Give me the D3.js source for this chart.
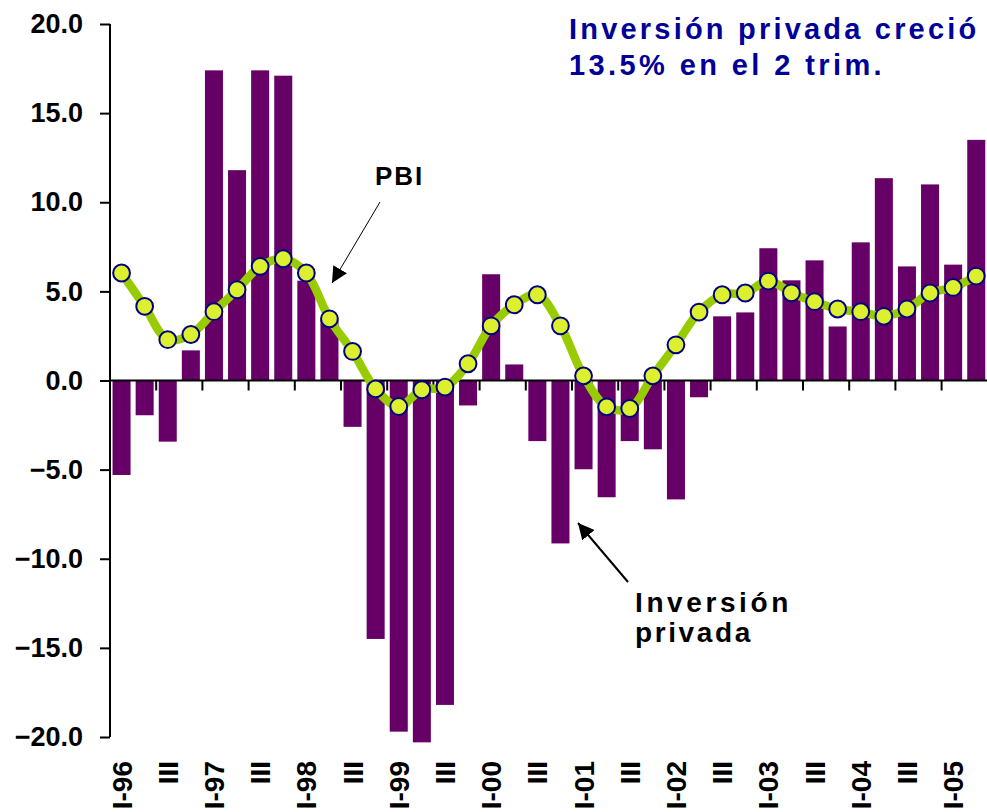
<!DOCTYPE html>
<html>
<head>
<meta charset="utf-8">
<script src="https://cdn.jsdelivr.net/npm/d3@7"></script>
<style>
  html, body { margin: 0; padding: 0; background: #ffffff; }
  svg { display: block; }
  text { font-family: Arial, "Liberation Sans", sans-serif; font-weight: bold; }
</style>
</head>
<body>
<svg id="chart" width="987" height="812"></svg>
<script>
// ---- data ----
const quarters = [
  "I-96","II-96","III-96","IV-96",
  "I-97","II-97","III-97","IV-97",
  "I-98","II-98","III-98","IV-98",
  "I-99","II-99","III-99","IV-99",
  "I-00","II-00","III-00","IV-00",
  "I-01","II-01","III-01","IV-01",
  "I-02","II-02","III-02","IV-02",
  "I-03","II-03","III-03","IV-03",
  "I-04","II-04","III-04","IV-04",
  "I-05","II-05"
];
const tickLabels = [
  "I-96","","III","",
  "I-97","","III","",
  "I-98","","III","",
  "I-99","","III","",
  "I-00","","III","",
  "I-01","","III","",
  "I-02","","III","",
  "I-03","","III","",
  "I-04","","III","",
  "I-05",""
];
const inversionPrivada = [
  -5.3, -1.95, -3.43, 1.69,
  17.4, 11.8, 17.4, 17.1,
  5.6, 3.4, -2.6, -14.5,
  -19.7, -20.3, -18.2, -1.4,
  5.96, 0.9, -3.4, -9.14,
  -4.98, -6.55, -3.4, -3.86,
  -6.67, -0.94, 3.6, 3.82,
  7.42, 5.62, 6.74, 3.03,
  7.75, 11.35, 6.4, 11.0,
  6.5, 13.5
];
const pbi = [
  6.03, 4.16, 2.29, 2.58,
  3.86, 5.09, 6.4, 6.83,
  6.03, 3.46, 1.63, -0.47,
  -1.46, -0.52, -0.37, 0.94,
  3.07, 4.25, 4.81, 3.07,
  0.26, -1.48, -1.57, 0.26,
  2.0, 3.84, 4.81, 4.91,
  5.58, 4.92, 4.42, 4.01,
  3.86, 3.6, 4.01, 4.91,
  5.22, 5.86
];
const yTicks = [20, 15, 10, 5, 0, -5, -10, -15, -20];

// ---- layout ----
const svg = d3.select("#chart");
const plotLeft = 110, step = 23.1;
const plotRight = plotLeft + quarters.length * step;
const plotTop = 24, plotBottom = 737;

const x = d3.scaleBand().domain(quarters).range([plotLeft, plotRight])
  .paddingInner(0.22).paddingOuter(0.11);
const y = d3.scaleLinear().domain([-20, 20]).range([plotBottom, plotTop]);

// defs: arrow head
const defs = svg.append("defs");
defs.append("marker").attr("id", "head")
  .attr("viewBox", "0 0 10 10").attr("refX", 10).attr("refY", 5)
  .attr("markerUnits", "userSpaceOnUse")
  .attr("markerWidth", 16).attr("markerHeight", 16)
  .attr("orient", "auto")
  .append("path").attr("d", "M0,0 L10,5 L0,10 Z").attr("fill", "#000");

// bars
svg.append("g").selectAll("rect").data(inversionPrivada).join("rect")
  .attr("x", (d, i) => x(quarters[i]))
  .attr("width", x.bandwidth())
  .attr("y", d => Math.min(y(d), y(0)))
  .attr("height", d => Math.abs(y(d) - y(0)))
  .attr("fill", "#660066");

// y axis
const yAxis = d3.axisLeft(y).tickValues(yTicks).tickSize(10).tickPadding(17)
  .tickFormat(d3.format(".1f"));
const gy = svg.append("g").attr("transform", `translate(${plotLeft},0)`).call(yAxis);
gy.select(".domain").attr("stroke", "#000").attr("stroke-width", 2).attr("d", `M0,${plotTop}V${plotBottom}`);
gy.selectAll(".tick line").attr("stroke", "#000").attr("stroke-width", 2);
gy.selectAll(".tick text").attr("fill", "#000").attr("font-size", 27)
  .attr("font-family", 'Arial, "Liberation Sans", sans-serif').attr("font-weight", "bold");

// x axis (at zero)
const boundaryScale = d3.scaleLinear().domain([0, quarters.length]).range([plotLeft, plotRight]);
const boundaries = d3.range(2, quarters.length, 2);
const gx = svg.append("g");
gx.append("line").attr("x1", plotLeft).attr("x2", 987).attr("y1", y(0)).attr("y2", y(0))
  .attr("stroke", "#000").attr("stroke-width", 2);
gx.selectAll("line.tk").data(boundaries).join("line").attr("class", "tk")
  .attr("x1", d => boundaryScale(d)).attr("x2", d => boundaryScale(d))
  .attr("y1", y(0)).attr("y2", y(0) + 10)
  .attr("stroke", "#000").attr("stroke-width", 2);

// x labels
svg.append("g").selectAll("text").data(quarters).join("text")
  .text((d, i) => tickLabels[i] || "")
  .attr("transform", d => `translate(${x(d) + x.bandwidth() / 2},761) rotate(-90)`)
  .attr("text-anchor", "end")
  .attr("dy", "0.36em")
  .attr("font-size", 28)
  .attr("fill", "#000");

// PBI line
const line = d3.line()
  .x((d, i) => x(quarters[i]) + x.bandwidth() / 2)
  .y(d => y(d))
  .curve(d3.curveCatmullRom.alpha(0.5));
svg.append("path").datum(pbi).attr("d", line)
  .attr("fill", "none").attr("stroke", "#99cc00").attr("stroke-width", 8.5)
  .attr("stroke-linejoin", "round");
svg.append("g").selectAll("circle").data(pbi).join("circle")
  .attr("cx", (d, i) => x(quarters[i]) + x.bandwidth() / 2)
  .attr("cy", d => y(d))
  .attr("r", 8.4)
  .attr("fill", "#ddf030").attr("stroke", "#000080").attr("stroke-width", 2);

// annotations
svg.append("text").attr("x", 569).attr("y", 39).attr("font-size", 29)
  .attr("letter-spacing", 3.2).attr("fill", "#000099")
  .text("Inversión privada creció");
svg.append("text").attr("x", 569).attr("y", 75).attr("font-size", 29)
  .attr("letter-spacing", 3.4).attr("fill", "#000099")
  .text("13.5% en el 2 trim.");

svg.append("text").attr("x", 375).attr("y", 185).attr("font-size", 26)
  .attr("letter-spacing", 2).attr("fill", "#000").text("PBI");
svg.append("line").attr("x1", 380).attr("y1", 202).attr("x2", 332).attr("y2", 283)
  .attr("stroke", "#000").attr("stroke-width", 1).attr("marker-end", "url(#head)");

svg.append("text").attr("x", 635).attr("y", 612).attr("font-size", 28)
  .attr("letter-spacing", 3.6).attr("fill", "#000").text("Inversión");
svg.append("text").attr("x", 635).attr("y", 642).attr("font-size", 28)
  .attr("letter-spacing", 2.6).attr("fill", "#000").text("privada");
svg.append("line").attr("x1", 628).attr("y1", 582).attr("x2", 578).attr("y2", 523)
  .attr("stroke", "#000").attr("stroke-width", 2).attr("marker-end", "url(#head)");
</script>
</body>
</html>
